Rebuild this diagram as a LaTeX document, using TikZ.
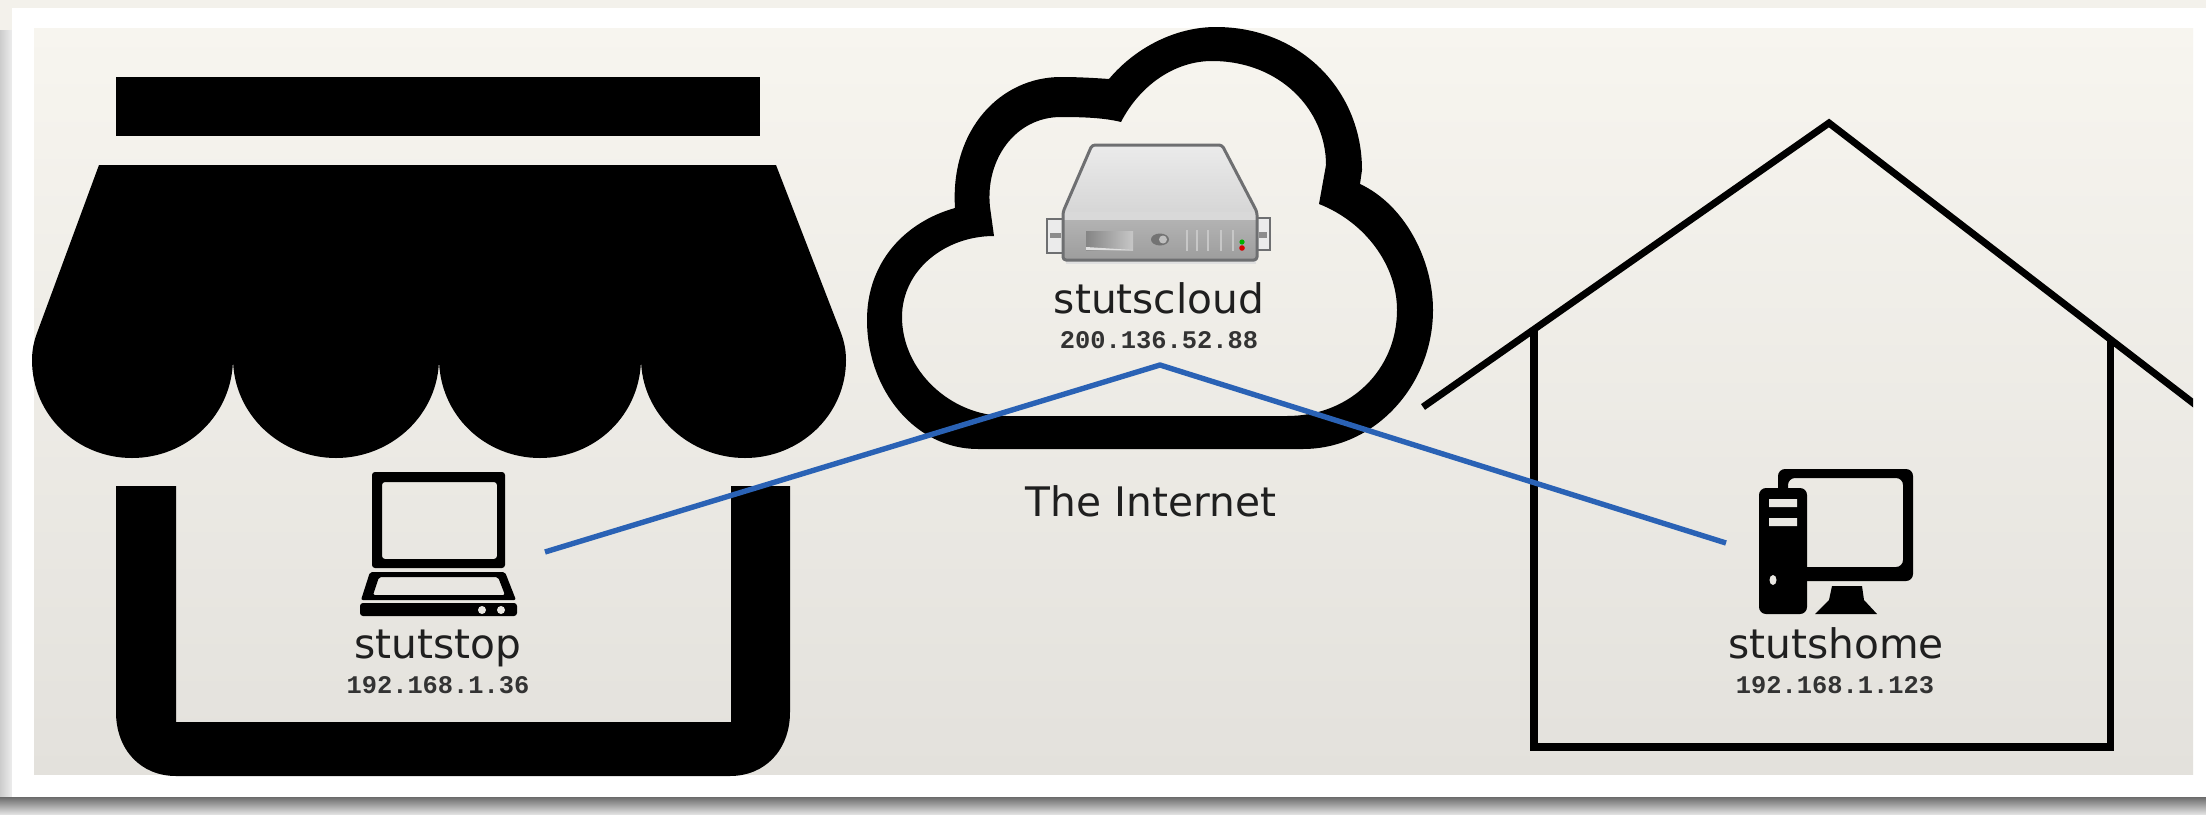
\documentclass[tikz,border=0pt]{standalone}
\usepackage{fontspec}
\setmainfont{DejaVu Sans}
\newfontfamily\ipfont{Liberation Mono}
\definecolor{linkblue}{HTML}{2A62B5}
\definecolor{rim}{HTML}{6E6F71}
\definecolor{cardmid}{HTML}{E9E7E2}
\definecolor{pagetone}{HTML}{F3F1EB}
\definecolor{cardtop}{HTML}{F7F5EF}
\definecolor{cardbottom}{HTML}{E3E1DC}
\tikzset{
  hostname/.style={anchor=base,inner sep=0pt,text=black!88,font=\fontsize{40.7}{48}\selectfont},
  ipaddr/.style={anchor=base,inner sep=0pt,text=black!80,font=\ipfont\bfseries\fontsize{25.4}{30}\selectfont},
  solid black/.style={fill=black,draw=none},
  house line/.style={draw=black,line width=7.5pt},
  link/.style={draw=linkblue,line width=5.4pt,line join=round},
  vent/.style={draw=white!78!black,line width=2.4pt}
}
\begin{document}
\begin{tikzpicture}[x=1pt,y=-1pt]
\useasboundingbox (0,0) rectangle (2206,814);
% page and card
\fill[pagetone] (0,0) rectangle (2206,814);
\shade[left color=black!20,right color=black!7] (0,30) rectangle (12,800);
\shade[top color=black!58,bottom color=black!12] (0,797) rectangle (2206,814);
\fill[white] (12,8) rectangle (2206,797);
\shade[top color=cardtop,bottom color=cardbottom] (34,28) rectangle (2193,774);
% shop
\fill[solid black] (116,77) rectangle (760,136);
\fill[solid black] (99,165) -- (776,165) -- (841,333)
  .. controls (844,341) and (846,350) .. (846,360)
  .. controls (846,415) and (800,458) .. (745,458)
  .. controls (690,458) and (641,415) .. (641,358)
  .. controls (641,415) and (595,458) .. (540,458)
  .. controls (485,458) and (439,415) .. (439,358)
  .. controls (439,415) and (391,458) .. (336,458)
  .. controls (281,458) and (233,415) .. (233,358)
  .. controls (233,415) and (187,458) .. (132,458)
  .. controls (77,458) and (32,415) .. (32,360)
  .. controls (32,350) and (34,341) .. (37,333) -- cycle;
\fill[solid black] (116,486) -- (176,486) -- (176,722) -- (731,722) -- (731,486) -- (790,486) -- (790,712)
  .. controls (790,750) and (765,776) .. (730,776) -- (176,776)
  .. controls (141,776) and (116,750) .. (116,712) -- cycle;
% laptop
\fill[solid black,rounded corners=3pt,even odd rule] (372,472) rectangle (505,568) (382,482) rectangle (497,559);
\fill[solid black,even odd rule,rounded corners=2pt] (370,572) -- (505,572) -- (516,600) -- (361,600) -- cycle
  (379,577) -- (498,577) -- (505,595) -- (373,595) -- cycle;
\fill[solid black,rounded corners=3pt] (360,603) rectangle (517,616);
\fill[cardmid] (482,610) circle (4) (501,610) circle (4);
% cloud
\fill[solid black,even odd rule]
  (978,449) .. controls (915,449) and (867,390) .. (867,320)
  .. controls (867,262) and (905,222) .. (955,208)
  .. controls (950,130) and (1000,77) .. (1061,77)
  .. controls (1078,77) and (1095,78) .. (1109,79)
  .. controls (1135,48) and (1175,27) .. (1216,27)
  .. controls (1300,27) and (1362,90) .. (1362,170)
  -- (1360,184)
  .. controls (1405,205) and (1433,260) .. (1433,310)
  .. controls (1433,385) and (1375,449) .. (1303,449) -- cycle
  (1006,416) .. controls (950,416) and (902,370) .. (902,317)
  .. controls (902,270) and (945,236) .. (994,236)
  -- (990,207)
  .. controls (985,160) and (1015,117) .. (1061,117)
  .. controls (1085,117) and (1105,118) .. (1121,122)
  .. controls (1140,85) and (1175,61) .. (1212,61)
  .. controls (1280,61) and (1326,110) .. (1326,165)
  -- (1319,204)
  .. controls (1365,222) and (1397,265) .. (1397,310)
  .. controls (1397,370) and (1350,416) .. (1287,416) -- cycle;
% server
\fill[black!12] (1066,258) rectangle (1256,264);
\draw[rim,line width=2.4pt,fill=black!8] (1047,219) rectangle (1063,253);
\draw[rim,line width=2.4pt,fill=black!8] (1257,218) rectangle (1270,250);
\fill[black!45] (1050,233) rectangle (1061,238);
\fill[black!45] (1259,232) rectangle (1267,238);
\shade[top color=black!8,bottom color=black!16] (1092,146) -- (1222,146) -- (1256,212) -- (1064,212) -- cycle;
\fill[white!85!black] (1064,212) rectangle (1256,220);
\shade[top color=black!30,bottom color=black!38] (1064,220) rectangle (1256,258);
\draw[rim,line width=3pt,line join=round,rounded corners=3pt] (1092,145) -- (1222,145) -- (1257,212) -- (1257,260) -- (1063,260) -- (1063,212) -- cycle;
\shade[left color=black!48,right color=black!22] (1086,231) rectangle (1133,250);
\fill[black!12] (1086,247) -- (1133,250) -- (1086,250) -- cycle;
\fill[black!55] (1160,239.5) ellipse (9 and 6);
\fill[black!25] (1163,239.5) ellipse (4 and 4);
\foreach \vx in {1187,1197,1208,1221,1233}{\draw[vent] (\vx,230) -- (\vx,251);}
\fill[green!70!black] (1242,242) circle (2.6);
\fill[red!85!black] (1242,248) circle (2.8);
% house
\begin{scope}
\clip (0,0) rectangle (2193,814);
\draw[house line,line width=7pt,line join=miter] (1423,407) -- (1829,123) -- (2210,416);
\end{scope}
\draw[house line,line join=miter] (1534,328) -- (1534,747) -- (2110.5,747) -- (2110.5,339);
% desktop
\fill[solid black,rounded corners=7pt,even odd rule] (1778,469) rectangle (1913,581) (1788,478) rectangle (1903,567);
\fill[solid black,rounded corners=7pt] (1759,488) rectangle (1807,614);
\fill[cardmid] (1769,499) rectangle (1797,507) (1769,518) rectangle (1797,526);
\fill[cardmid] (1773,580) ellipse (3.5 and 5);
\fill[solid black] (1832,586) -- (1862,586) -- (1864,600) -- (1877,614) -- (1815,614) -- (1829,600) -- cycle;
% labels
\node[hostname] (cloudname) at (1159,313) {stutscloud};
\node[ipaddr] (cloudip) at (1159,348) {200.136.52.88};
\node[hostname] (internet) at (1151,516) {The Internet};
\node[hostname] (stopname) at (438,658) {stutstop};
\node[ipaddr] (stopip) at (438,693) {192.168.1.36};
\node[hostname] (homename) at (1836,658) {stutshome};
\node[ipaddr] (homeip) at (1835,693) {192.168.1.123};
% connector
\coordinate (laptop) at (545,552);
\coordinate (server) at (1160,365);
\coordinate (desktop) at (1726,543);
\draw[link] (laptop) -- (server) -- (desktop);
\end{tikzpicture}
\end{document}
